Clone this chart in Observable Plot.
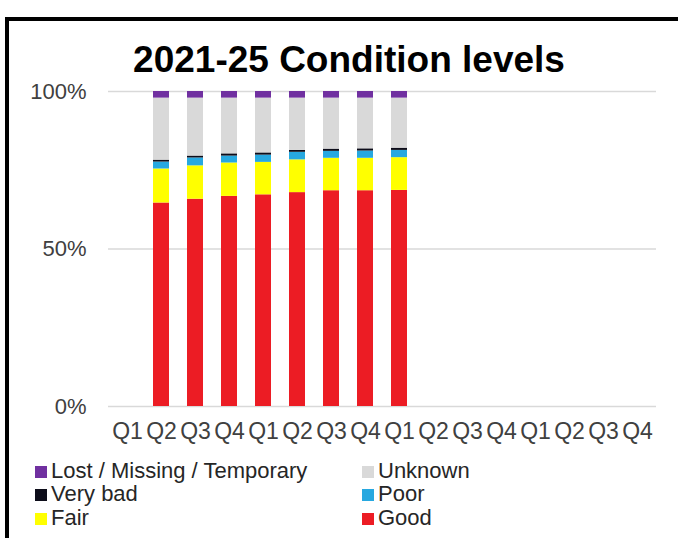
<!DOCTYPE html>
<html>
<head>
<meta charset="utf-8">
<script src="https://cdn.jsdelivr.net/npm/d3@7"></script>
<script src="https://cdn.jsdelivr.net/npm/@observablehq/plot@0.6"></script>
<style>
  html, body { margin: 0; padding: 0; background: #fff; overflow: hidden; }
  #wrap { position: relative; width: 678px; height: 538px; overflow: hidden; background: #fff;
          font-family: "Liberation Sans", Arial, sans-serif; }
  #frame { position: absolute; left: 5px; top: 17px; width: 690px; height: 560px;
           border-top: 4px solid #000; border-left: 4px solid #000; box-sizing: border-box; }
  #title { position: absolute; left: 0; width: 698px; top: 40px; text-align: center;
           font-size: 37px; font-weight: bold; color: #000; line-height: 40px; }
  #chart { position: absolute; left: 0; top: 0; }
  #legend { position: absolute; left: 0; top: 459px; width: 678px; }
  .item { position: absolute; font-size: 22px; line-height: 24px; color: #262626; white-space: nowrap; }
  .sw { display: inline-block; width: 12px; height: 12px; margin-right: 4px; vertical-align: 0px; }
</style>
</head>
<body>
<div id="wrap">
  <div id="frame"></div>
  <div id="chart"></div>
  <div id="title">2021-25 Condition levels</div>
  <div id="legend"></div>
</div>
<script>
// x-axis slots (16 quarters) and their labels
const quarterLabels = ["Q1","Q2","Q3","Q4","Q1","Q2","Q3","Q4","Q1","Q2","Q3","Q4","Q1","Q2","Q3","Q4"];
// slots that hold data
const barSlots = [1, 2, 3, 4, 5, 6, 7, 8];

// series values (%)
const good    = [64.6, 65.8, 66.7, 67.2, 67.9, 68.5, 68.5, 68.6];
const fair    = [10.8, 10.6, 10.6, 10.3, 10.4, 10.3, 10.3, 10.4];
const poor    = [2.2, 2.5, 2.2, 2.3, 2.4, 2.2, 2.3, 2.3];
const veryBad = [0.6, 0.6, 0.7, 0.7, 0.6, 0.7, 0.7, 0.7];
const unknown = [19.7, 18.4, 17.7, 17.4, 16.6, 16.2, 16.1, 15.9];
const lost    = [2.1, 2.1, 2.1, 2.1, 2.1, 2.1, 2.1, 2.1];

const yTicks = [0, 50, 100];

// stacking order, bottom to top
const categories = ["Good", "Fair", "Poor", "Very bad", "Unknown", "Lost / Missing / Temporary"];
const colors = ["#ec1c24", "#ffff00", "#27a8e0", "#0d0d1a", "#d9d9d9", "#7030a0"];
const seriesArrays = [good, fair, poor, veryBad, unknown, lost];

// legend layout order (row-major, two columns)
const legendOrder = ["Lost / Missing / Temporary", "Unknown", "Very bad", "Poor", "Fair", "Good"];

const data = [];
barSlots.forEach((slot, i) => {
  categories.forEach((c, k) => data.push({slot, cat: c, value: seriesArrays[k][i]}));
});

const chart = Plot.plot({
  width: 678,
  height: 460,
  marginLeft: 108,
  marginRight: 22,
  marginTop: 91,
  marginBottom: 54,
  style: {background: "transparent", fontFamily: "'Liberation Sans', Arial, sans-serif", fontSize: "22px", color: "#404040"},
  x: {type: "band", domain: d3.range(quarterLabels.length), paddingInner: 0.54, paddingOuter: 0.27},
  y: {domain: [0, 100]},
  color: {domain: categories, range: colors},
  marks: [
    Plot.gridY(yTicks, {stroke: "#d9d9d9", strokeOpacity: 1, strokeWidth: 1.5}),
    Plot.barY(data, {x: "slot", y: "value", fill: "cat", order: categories}),
    Plot.axisY(yTicks, {tickSize: 0, tickPadding: 22, tickFormat: d => d + "%", label: null, fontSize: 22}),
    Plot.axisX({tickSize: 0, tickPadding: 16, tickFormat: i => quarterLabels[i], label: null, fontSize: 23})
  ]
});
document.getElementById("chart").appendChild(chart);

// legend
const leg = document.getElementById("legend");
const colX = [35, 362];
const rowY = [0, 23, 47];
legendOrder.forEach((name, i) => {
  const div = document.createElement("div");
  div.className = "item";
  div.style.left = colX[i % 2] + "px";
  div.style.top = rowY[Math.floor(i / 2)] + "px";
  const sw = document.createElement("span");
  sw.className = "sw";
  sw.style.background = colors[categories.indexOf(name)];
  div.appendChild(sw);
  div.appendChild(document.createTextNode(name));
  leg.appendChild(div);
});
</script>
</body>
</html>
